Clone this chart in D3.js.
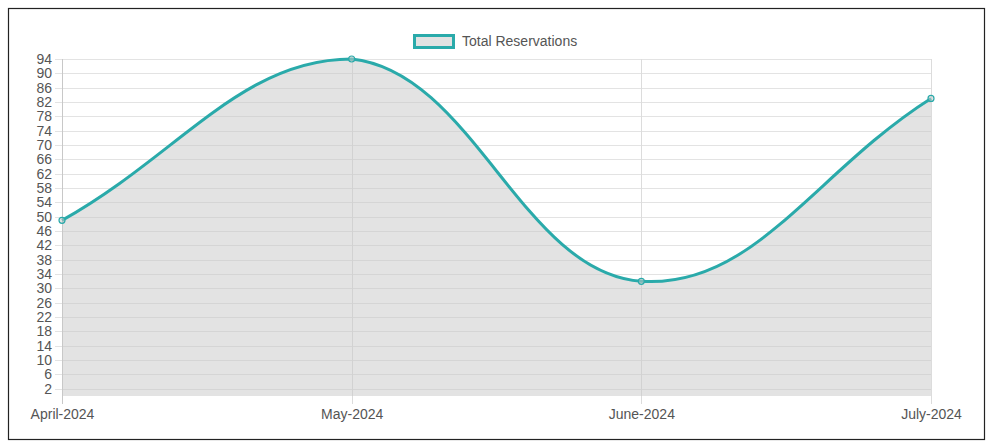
<!DOCTYPE html>
<html>
<head>
<meta charset="utf-8">
<script src="https://cdn.jsdelivr.net/npm/d3@7"></script>
<style>
  body { margin: 0; background: #fff; }
  svg { display: block; font-family: "Liberation Sans", Arial, sans-serif; }
</style>
</head>
<body>
<svg></svg>
<script>
var width = 993,
    height = 445;

// data
var months = ["April-2024", "May-2024", "June-2024", "July-2024"];
var reservations = [49, 94, 32, 83];
var yTicks = d3.range(2, 95, 4);   // 2, 6, ... 94
var seriesName = "Total Reservations";

var LINE = "rgb(42,170,170)",
    FILL = "rgba(200,200,200,0.5)",
    GRID = "#e3e3e3",
    TEXT = "#555";

var area = { left: 62, right: 931, top: 59, bottom: 396 };

var svg = d3.select("svg")
    .attr("width", width)
    .attr("height", height);

// outer frame
svg.append("rect")
    .attr("x", 8.5).attr("y", 8.5)
    .attr("width", 976).attr("height", 431)
    .attr("fill", "none")
    .attr("stroke", "#222")
    .attr("stroke-width", 1.2);

var x = d3.scalePoint().domain(months).range([area.left, area.right]);
var y = d3.scaleLinear().domain([0, 94]).range([area.bottom, area.top]);

// horizontal grid + y labels
var yAxis = d3.axisLeft(y).tickValues(yTicks)
    .tickSize(area.right - area.left + 7)
    .tickPadding(3);
var gy = svg.append("g")
    .attr("transform", "translate(" + area.right + ",0)")
    .call(yAxis);
gy.select(".domain").remove();
gy.selectAll("line").attr("stroke", GRID).attr("shape-rendering", "crispEdges");
gy.selectAll("text").attr("fill", TEXT).style("font-size", "14px");

// vertical grid + x labels
var xAxis = d3.axisBottom(x)
    .tickSize(-(area.bottom - area.top) - 8)
    .tickPadding(8);
var gx = svg.append("g")
    .attr("transform", "translate(0," + (area.bottom + 8) + ")")
    .call(xAxis);
gx.select(".domain").remove();
gx.selectAll("line").attr("stroke", "#dcdcdc").attr("shape-rendering", "crispEdges");
gx.selectAll("text").attr("fill", TEXT).style("font-size", "14px").attr("dy", "0.5em");

// Chart.js-style bezier spline, tension 0.4, control points kept in the chart area
var pts = months.map(function(m, i) { return { x: x(m), y: y(reservations[i]) }; });
var tension = 0.4;
function cap(v, lo, hi) { return Math.max(lo, Math.min(hi, v)); }
pts.forEach(function(p, i) {
  var prev = pts[Math.max(i - 1, 0)],
      next = pts[Math.min(i + 1, pts.length - 1)];
  var d01 = Math.hypot(p.x - prev.x, p.y - prev.y),
      d12 = Math.hypot(next.x - p.x, next.y - p.y);
  var s01 = d01 / (d01 + d12) || 0,
      s12 = d12 / (d01 + d12) || 0;
  var fa = tension * s01, fb = tension * s12;
  p.cpPrev = { x: cap(p.x - fa * (next.x - prev.x), area.left, area.right),
               y: cap(p.y - fa * (next.y - prev.y), area.top, area.bottom) };
  p.cpNext = { x: cap(p.x + fb * (next.x - prev.x), area.left, area.right),
               y: cap(p.y + fb * (next.y - prev.y), area.top, area.bottom) };
});

function curvePath(closeArea) {
  var path = d3.path();
  path.moveTo(pts[0].x, pts[0].y);
  for (var i = 1; i < pts.length; i++) {
    var a = pts[i - 1], b = pts[i];
    path.bezierCurveTo(a.cpNext.x, a.cpNext.y, b.cpPrev.x, b.cpPrev.y, b.x, b.y);
  }
  if (closeArea) {
    path.lineTo(pts[pts.length - 1].x, area.bottom);
    path.lineTo(pts[0].x, area.bottom);
    path.closePath();
  }
  return path.toString();
}

svg.append("path")
    .attr("d", curvePath(true))
    .attr("fill", FILL);

// left axis line
svg.append("line")
    .attr("x1", area.left + 0.5).attr("x2", area.left + 0.5)
    .attr("y1", area.top).attr("y2", area.bottom + 8)
    .attr("stroke", "#c8c8c8");

svg.append("path")
    .attr("d", curvePath(false))
    .attr("fill", "none")
    .attr("stroke", LINE)
    .attr("stroke-width", 3);

svg.selectAll("circle.pt")
    .data(pts)
  .enter().append("circle")
    .attr("class", "pt")
    .attr("cx", function(d) { return d.x; })
    .attr("cy", function(d) { return d.y; })
    .attr("r", 3)
    .attr("fill", "rgba(200,200,200,0.5)")
    .attr("stroke", LINE)
    .attr("stroke-width", 1.2);

// legend
var legend = svg.append("g").attr("transform", "translate(413,34)");
legend.append("rect")
    .attr("x", 1.5).attr("y", 1.5)
    .attr("width", 39).attr("height", 12)
    .attr("fill", "#e2e2e2")
    .attr("stroke", LINE)
    .attr("stroke-width", 3);
legend.append("text")
    .attr("x", 49).attr("y", 12)
    .attr("fill", TEXT)
    .style("font-size", "14px")
    .text(seriesName);
</script>
</body>
</html>
